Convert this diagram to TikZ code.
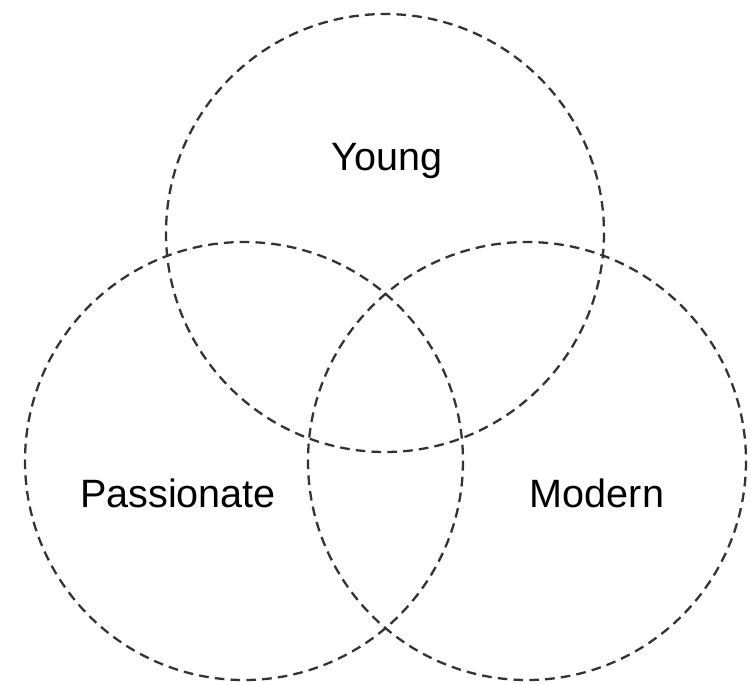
\documentclass[tikz,border=0pt]{standalone}
\usepackage{fontspec}
\setmainfont{Liberation Sans}
\usepackage{tikz}

\begin{document}
\begin{tikzpicture}[x=0.02cm,y=-0.02cm,
  ring/.style={draw=black!80,line width=1.3pt,dash pattern=on 5.5pt off 3.5pt},
  tag/.style={anchor=base,inner sep=0pt,font=\fontsize{22.5}{27}\selectfont}]
\useasboundingbox (0,0) rectangle (751,684);
\draw[ring] (385,233) circle (219);
\draw[ring] (244,461) circle (219);
\draw[ring] (527,461) circle (219);
\node[tag] (young) at (387,170) {Young};
\node[tag] (passionate) at (178,507) {Passionate};
\node[tag] (modern) at (597,507) {Modern};
\end{tikzpicture}
\end{document}
